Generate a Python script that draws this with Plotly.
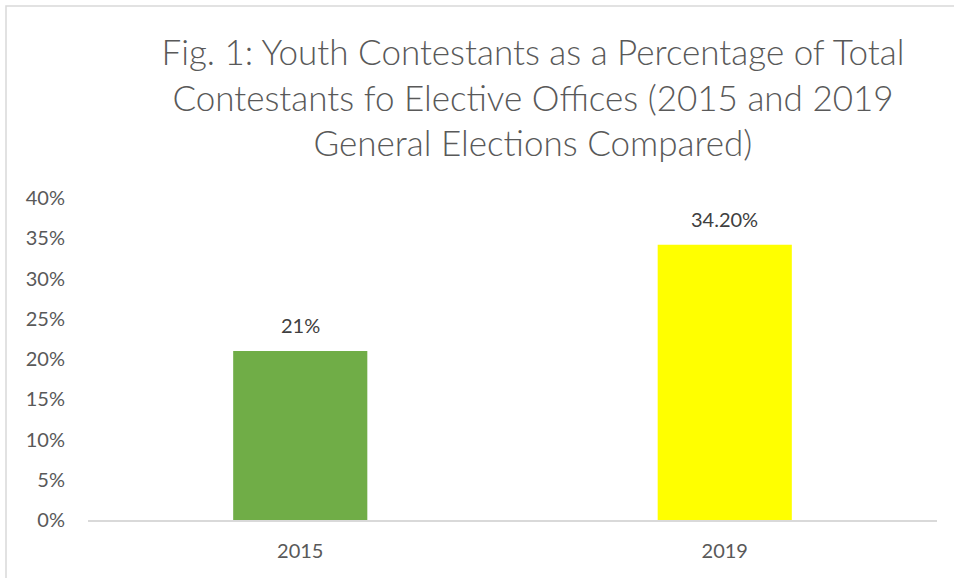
import plotly.graph_objects as go

categories = ["2015", "2019"]
values = [0.21, 0.342]
value_labels = ["21%", "34.20%"]
bar_colors = ["#70AD47", "#FFFF00"]
y_ticks = [0, 0.05, 0.10, 0.15, 0.20, 0.25, 0.30, 0.35, 0.40]
y_tick_labels = ["0%", "5%", "10%", "15%", "20%", "25%", "30%", "35%", "40%"]
title_text = ("Fig. 1: Youth Contestants as a Percentage of Total<br>"
              "Contestants fo Elective Offices (2015 and 2019<br>"
              "General Elections Compared)")

W, H = 954, 578
ML, MR, MT, MB = 88, 17, 198, 58
PW, PH = W - ML - MR, H - MT - MB

FONT = "Lato, Open Sans, sans-serif"
GRAY = "#595959"

fig = go.Figure()
fig.add_trace(go.Bar(
    x=categories, y=values, marker=dict(color=bar_colors, line=dict(width=0)),
    hoverinfo="skip", showlegend=False,
))

for i, (v, t) in enumerate(zip(values, value_labels)):
    fig.add_annotation(x=i, y=v, text=t, showarrow=False, yanchor="bottom",
                       yshift=12, font=dict(family=FONT, size=20, color="#404040"))

def px_x(p):
    return (p - ML) / PW

def px_y(p):
    return (H - MB - p) / PH

fig.add_shape(type="rect", xref="paper", yref="paper",
              x0=px_x(6), x1=px_x(W + 10), y0=px_y(H + 10), y1=px_y(6),
              line=dict(color="#D9D9D9", width=1.5), fillcolor="rgba(0,0,0,0)", layer="below")

fig.update_layout(
    width=W, height=H,
    margin=dict(l=ML, r=MR, t=MT, b=MB),
    paper_bgcolor="white", plot_bgcolor="white",
    bargap=0.684,
    title=dict(text=title_text, x=533 / W, xanchor="center", y=1 - 65 / H, yanchor="middle",
               font=dict(family=FONT, size=35, color=GRAY, weight=300)),
    xaxis=dict(type="category", range=[-0.5, len(categories) - 0.5], showline=True,
               linecolor="#D9D9D9", linewidth=1.5, ticks="",
               tickfont=dict(family=FONT, size=20, color=GRAY), showgrid=False,
               ticklabelstandoff=12),
    yaxis=dict(range=[0, 0.4], tickvals=y_ticks, ticktext=y_tick_labels, showgrid=False,
               zeroline=False, showline=False, ticks="",
               tickfont=dict(family=FONT, size=20, color=GRAY), ticklabelstandoff=22),
)

fig.write_html("out.html")
